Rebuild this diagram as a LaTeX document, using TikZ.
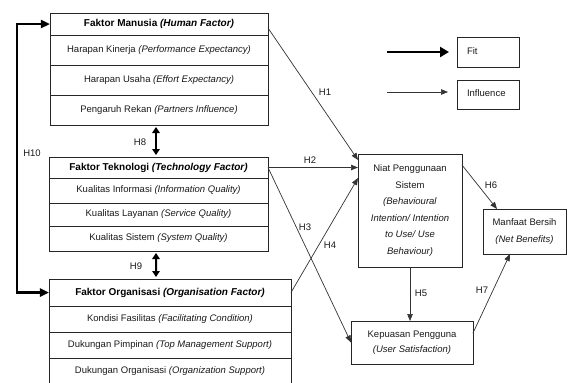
\documentclass[tikz,border=0pt]{standalone}
\usepackage{fontspec}
\setmainfont{Liberation Sans}
\usetikzlibrary{arrows.meta,calc}
\begin{document}
\tikzset{
  cell/.style={draw=black!85, line width=0.8bp, inner sep=0pt, outer sep=0pt,
    font=\fontsize{9.5bp}{11bp}\selectfont, text=black!90, align=center},
  headcell/.style={cell, font=\fontsize{10bp}{12bp}\selectfont\bfseries, text=black},
  boxnode/.style={draw=black!85, line width=0.8bp, inner sep=0pt, outer sep=0pt,
    font=\fontsize{9.5bp}{16.5bp}\selectfont, text=black!90, align=center},
  infl/.style={draw=black!80, line width=0.7bp, -{Triangle[length=7bp,width=5.5bp]}},
  fitar/.style={draw=black, line width=2.4bp, -{Triangle[length=9bp,width=10bp]}},
  fitdbl/.style={draw=black, line width=2bp, {Triangle[length=6bp,width=7.5bp]}-{Triangle[length=6bp,width=7.5bp]}},
  hlab/.style={font=\fontsize{9.5bp}{11bp}\selectfont, inner sep=0pt, text=black!90},
}
\begin{tikzpicture}[x=1bp,y=-1bp]
\useasboundingbox (0,0) rectangle (568,382);
% Human factor
\node[headcell, minimum width=218bp, minimum height=22bp] (mh) at (159,24) {Faktor Manusia \textit{(Human Factor)}};
\node[cell, minimum width=218bp, minimum height=30bp] (hr1) at (159,50) {Harapan Kinerja \textit{(Performance Expectancy)}};
\node[cell, minimum width=218bp, minimum height=30bp] (hr2) at (159,80) {Harapan Usaha \textit{(Effort Expectancy)}};
\node[cell, minimum width=218bp, minimum height=30bp] (hr3) at (159,110) {Pengaruh Rekan \textit{(Partners Influence)}};
% Technology factor
\node[headcell, minimum width=219bp, minimum height=21bp] (th) at (158.5,167.5) {Faktor Teknologi \textit{(Technology Factor)}};
\node[cell, minimum width=219bp, minimum height=25bp] (tr1) at (158.5,190.5) {Kualitas Informasi \textit{(Information Quality)}};
\node[cell, minimum width=219bp, minimum height=23bp] (tr2) at (158.5,214.5) {Kualitas Layanan \textit{(Service Quality)}};
\node[cell, minimum width=219bp, minimum height=25bp] (tr3) at (158.5,238.5) {Kualitas Sistem \textit{(System Quality)}};
% Organisation factor
\node[headcell, minimum width=242bp, minimum height=27bp] (oh) at (170,292.5) {Faktor Organisasi \textit{(Organisation Factor)}};
\node[cell, minimum width=242bp, minimum height=26bp] (or1) at (170,319) {Kondisi Fasilitas \textit{(Facilitating Condition)}};
\node[cell, minimum width=242bp, minimum height=26bp] (or2) at (170,345) {Dukungan Pimpinan \textit{(Top Management Support)}};
\node[cell, minimum width=242bp, minimum height=26bp] (or3) at (170,371) {Dukungan Organisasi \textit{(Organization Support)}};
% Right boxes
\node[boxnode, minimum width=104bp, minimum height=113bp] (niat) at (410,210.5)
  {Niat Penggunaan\\Sistem\\\textit{(Behavioural}\\\textit{Intention/ Intention}\\\textit{to Use/ Use}\\\textit{Behaviour)}};
\node[boxnode, minimum width=122bp, minimum height=43bp, font=\fontsize{9.5bp}{15bp}\selectfont] (kp) at (412,342.5)
  {Kepuasan Pengguna\\\textit{(User Satisfaction)}};
\node[boxnode, minimum width=83bp, minimum height=45bp, font=\fontsize{9.5bp}{17bp}\selectfont] (mb) at (524.5,231.5)
  {Manfaat Bersih\\\textit{(Net Benefits)}};
% Legend
\node[boxnode, minimum width=62bp, minimum height=30bp, align=left, text width=42bp, font=\fontsize{9.5bp}{11bp}\selectfont] (fitbox) at (488,52) {\raisebox{2bp}{Fit}};
\node[boxnode, minimum width=62bp, minimum height=29bp, align=left, text width=42bp, font=\fontsize{9.5bp}{11bp}\selectfont] (inbox) at (488,94.5) {\raisebox{2bp}{Influence}};
\coordinate (fitA) at (387,52);
\coordinate (fitB) at (449,52);
\coordinate (inA) at (387,92);
\coordinate (inB) at (448,92);
\draw[fitar] (fitA) -- (fitB);
\draw[infl] (inA) -- (inB);
% Fit connectors
\draw[fitar, {Triangle[length=9bp,width=8bp]}-{Triangle[length=9bp,width=8bp]}] (mh.west) -- ++(-33,0) |- (oh.west);
\draw[fitdbl, shorten <=2bp, shorten >=2bp] ([xshift=-3bp]hr3.south) -- ([xshift=-2.5bp]th.north);
\draw[fitdbl, shorten <=2bp, shorten >=2bp] ([xshift=-2.5bp]tr3.south) -- ([xshift=-14bp]oh.north);
% Influence connectors
\draw[infl] ([yshift=-4bp]mh.east) -- ([yshift=-6bp]niat.north west);
\draw[infl] (th.east) -- (th.east -| niat.west);
\draw[infl] (th.east) -- (kp.west);
\draw[infl] (oh.east) -- ([yshift=-24bp]niat.north west);
\draw[infl] (niat.south) -- (niat.south |- kp.north);
\draw[infl] ([yshift=-11bp]niat.north east) -- ([xshift=14bp]mb.north west);
\draw[infl] ([yshift=9.5bp]kp.east) -- ([xshift=27bp]mb.south west);
% Labels
\node[hlab] (l1) at (325,92) {H1};
\node[hlab] (l2) at (310,160) {H2};
\node[hlab] (l3) at (305,227) {H3};
\node[hlab] (l4) at (330,245) {H4};
\node[hlab] (l5) at (421,293) {H5};
\node[hlab] (l6) at (491,185) {H6};
\node[hlab] (l7) at (482,290) {H7};
\node[hlab] (l8) at (140,142) {H8};
\node[hlab] (l9) at (136,266) {H9};
\node[hlab] (l10) at (32,153) {H10};
\end{tikzpicture}
\end{document}
